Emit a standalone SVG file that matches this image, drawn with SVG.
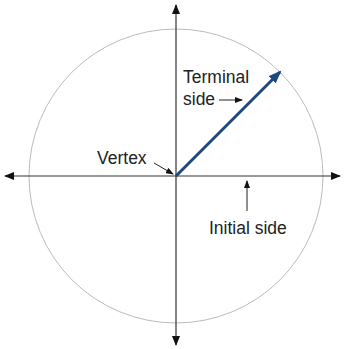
<svg xmlns="http://www.w3.org/2000/svg" width="345" height="349" viewBox="0 0 345 349">
<style>
.ax{stroke:#333;stroke-width:1.2;fill:none}
.lbl{font-family:"Liberation Sans",Arial,sans-serif;font-size:17.5px;fill:#222}
.ptr{stroke:#222;stroke-width:1;fill:none}
</style>
<defs>
<marker id="ah" markerWidth="10" markerHeight="8" refX="9" refY="4" orient="auto" markerUnits="userSpaceOnUse"><path d="M0,0 L10,4 L0,8 Z" fill="#111"/></marker>
<marker id="sh" markerWidth="8" markerHeight="6" refX="7" refY="3" orient="auto" markerUnits="userSpaceOnUse"><path d="M0,0 L8,3 L0,6 Z" fill="#111"/></marker>
<marker id="bh" markerWidth="13" markerHeight="10" refX="11" refY="5" orient="auto" markerUnits="userSpaceOnUse"><path d="M0,0 L13,5 L0,10 Z" fill="#1d4a7e"/></marker>
</defs>
<g id="circle"><circle cx="176" cy="176" r="147" fill="none" stroke="#bbb" stroke-width="1"/></g>
<g id="connectors">
<line class="ax" x1="176" y1="176" x2="176" y2="5" marker-end="url(#ah)"/>
<line class="ax" x1="176" y1="176" x2="176" y2="345" marker-end="url(#ah)"/>
<line class="ax" x1="176" y1="176" x2="5" y2="176" marker-end="url(#ah)"/>
<line class="ax" x1="176" y1="176" x2="340" y2="176" marker-end="url(#ah)"/>
<line x1="176" y1="176" x2="280" y2="72" stroke="#1d4a7e" stroke-width="3" marker-end="url(#bh)"/>
<line class="ptr" x1="219" y1="100" x2="242" y2="100" marker-end="url(#sh)"/>
<line class="ptr" x1="154" y1="163" x2="173" y2="174" marker-end="url(#sh)"/>
<line class="ptr" x1="247" y1="211" x2="247" y2="181" marker-end="url(#sh)"/>
</g>
<g id="terminal"><text class="lbl" x="183" y="83">Terminal</text><text class="lbl" x="183" y="105">side</text></g>
<g id="vertex"><text class="lbl" x="97" y="164">Vertex</text></g>
<g id="initial"><text class="lbl" x="209" y="234">Initial side</text></g>
</svg>
